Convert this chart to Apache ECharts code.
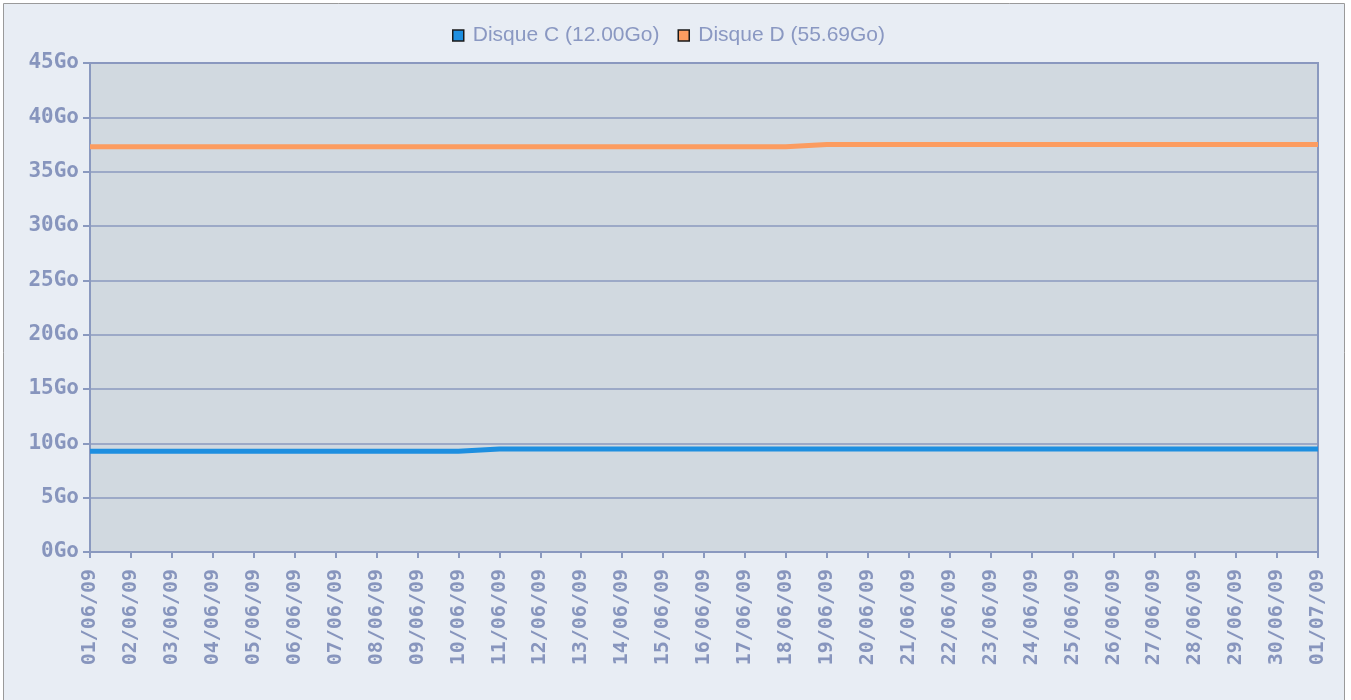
<!DOCTYPE html>
<html>
<head>
<meta charset="utf-8">
<script src="https://cdn.jsdelivr.net/npm/echarts@6/dist/echarts.min.js"></script>
<style>
html,body{margin:0;padding:0;background:#ffffff;}
#chart{width:1351px;height:700px;}
</style>
</head>
<body>
<div id="chart"></div>
<script>
var dates = ['01/06/09','02/06/09','03/06/09','04/06/09','05/06/09','06/06/09','07/06/09','08/06/09','09/06/09','10/06/09','11/06/09','12/06/09','13/06/09','14/06/09','15/06/09','16/06/09','17/06/09','18/06/09','19/06/09','20/06/09','21/06/09','22/06/09','23/06/09','24/06/09','25/06/09','26/06/09','27/06/09','28/06/09','29/06/09','30/06/09','01/07/09'];
var disqueC = [9.28,9.28,9.28,9.28,9.28,9.28,9.28,9.28,9.28,9.28,9.47,9.47,9.47,9.47,9.47,9.47,9.47,9.47,9.47,9.47,9.47,9.47,9.47,9.47,9.47,9.47,9.47,9.47,9.47,9.47,9.47];
var disqueD = [37.3,37.3,37.3,37.3,37.3,37.3,37.3,37.3,37.3,37.3,37.3,37.3,37.3,37.3,37.3,37.3,37.3,37.3,37.5,37.5,37.5,37.5,37.5,37.5,37.5,37.5,37.5,37.5,37.5,37.5,37.5];
var seriesNames = ['Disque C (12.00Go)','Disque D (55.69Go)'];
var yTicks = {min:0, max:45, interval:5, unit:'Go'};

var axisCol = '#8a99bf';
var labelCol = '#8795bd';
var chart = echarts.init(document.getElementById('chart'), null, {renderer:'canvas'});
chart.setOption({
  animation:false,
  backgroundColor:'#ffffff',
  color:['#1e8fe0','#fc9c60'],
  graphic:[{
    type:'rect', z:-10, silent:true,
    shape:{x:3.5,y:3.5,width:1341,height:720},
    style:{fill:'#e8edf4',stroke:'#9a9a9a',lineWidth:1}
  }],
  legend:{
    top:20, left:447,
    itemWidth:11, itemHeight:11, itemGap:18,
    icon:'rect',
    textStyle:{color:'#8a98c2',fontSize:21,fontFamily:'Liberation Sans',padding:[0,0,0,4]},
    itemStyle:{borderColor:'#1a1a1a',borderWidth:1.5},
    data:seriesNames
  },
  grid:{left:90,right:33,top:63,bottom:148,show:true,backgroundColor:'#d1d9e0',borderColor:axisCol,borderWidth:2},
  xAxis:{
    type:'category', data:dates, boundaryGap:false,
    axisLine:{show:true,lineStyle:{color:axisCol,width:2}},
    axisTick:{show:true,inside:false,length:6,lineStyle:{color:axisCol,width:2},alignWithLabel:true},
    axisLabel:{rotate:90,interval:0,margin:17,color:labelCol,fontWeight:'bold',fontSize:20,fontFamily:'DejaVu Sans Mono'},
    splitLine:{show:false}
  },
  yAxis:{
    type:'value', min:yTicks.min, max:yTicks.max, interval:yTicks.interval,
    axisLine:{show:true,lineStyle:{color:axisCol,width:2}},
    axisTick:{show:true,length:7,lineStyle:{color:axisCol,width:2}},
    axisLabel:{formatter:'{value}'+yTicks.unit,margin:11,color:labelCol,fontWeight:'bold',fontSize:21,fontFamily:'DejaVu Sans Mono'},
    splitLine:{show:true,lineStyle:{color:axisCol,width:1.5}}
  },
  series:[
    {name:seriesNames[0],type:'line',data:disqueC,symbol:'none',lineStyle:{width:5,color:'#1e8fe0'},itemStyle:{color:'#1e8fe0'}},
    {name:seriesNames[1],type:'line',data:disqueD,symbol:'none',lineStyle:{width:5,color:'#fc9c60'},itemStyle:{color:'#fc9c60'}}
  ]
});
</script>
</body>
</html>
